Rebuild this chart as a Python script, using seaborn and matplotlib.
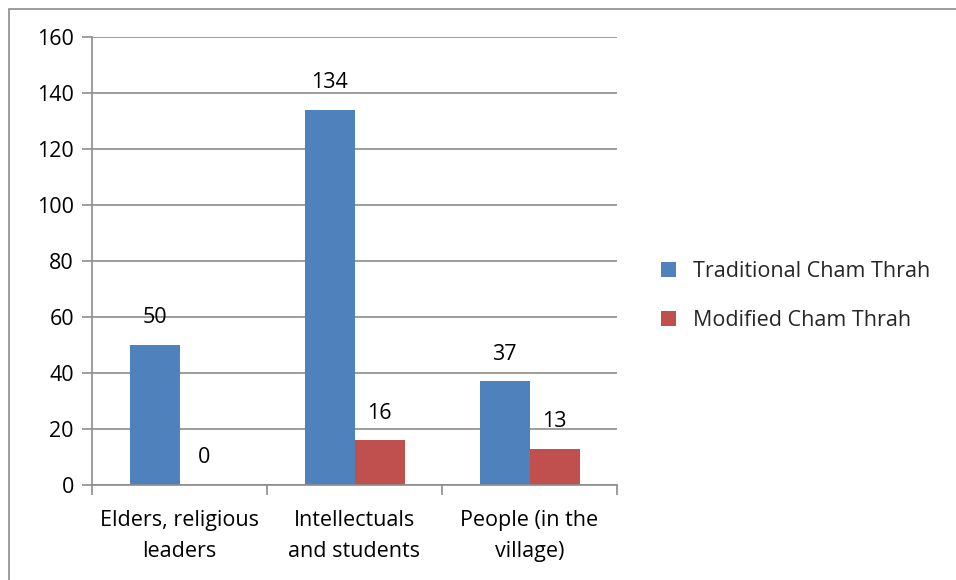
import matplotlib
matplotlib.use("Agg")
import matplotlib.pyplot as plt
import seaborn as sns
import pandas as pd
from matplotlib.patches import Rectangle

categories = ["Elders, religious\nleaders", "Intellectuals\nand students", "People (in the\nvillage)"]
series = ["Traditional Cham Thrah", "Modified Cham Thrah"]
traditional = [50, 134, 37]
modified = [0, 16, 13]
yticks = [0, 20, 40, 60, 80, 100, 120, 140, 160]

df = pd.DataFrame({
    "category": categories * 2,
    "series": [series[0]] * 3 + [series[1]] * 3,
    "value": traditional + modified,
})

sns.set_theme(style="white")
plt.rcParams['font.family'] = ['Open Sans', 'DejaVu Sans']

FS = 15.5
fig = plt.figure(figsize=(9.56, 5.8), dpi=100)
ax = fig.add_axes([92/956, 1 - 485/580, (617-92)/956, (485-37)/580])

colors = ["#4F81BD", "#C0504D"]
sns.barplot(data=df, x="category", y="value", hue="series", hue_order=series,
            order=categories, palette=colors, width=100/175, ax=ax,
            saturation=1, legend=True, errorbar=None, linewidth=0)

ax.set_ylim(0, 160)
ax.set_xlim(-0.5, 2.5)
ax.set_yticks(yticks)
ax.set_yticklabels([str(v) for v in yticks], fontsize=FS)
ax.set_xlabel("")
ax.set_ylabel("")
ax.yaxis.grid(True, color="#8C8C8C", linewidth=1.2)
ax.set_axisbelow(True)
for s in ["top", "right"]:
    ax.spines[s].set_visible(False)
for s in ["left", "bottom"]:
    ax.spines[s].set_color("#8C8C8C")
    ax.spines[s].set_linewidth(1.2)
ax.tick_params(axis="y", left=True, length=7, width=1.2, color="#8C8C8C", pad=6, labelcolor="black")

# x ticks at group boundaries, labels at centers
ax.set_xticks([-0.5, 0.5, 1.5, 2.5])
ax.set_xticklabels([])
ax.set_xticks([0, 1, 2], minor=True)
ax.set_xticklabels(categories, minor=True, fontsize=FS, linespacing=1.65)
ax.tick_params(axis="x", which="major", bottom=True, length=7, width=1.2, color="#8C8C8C")
ax.tick_params(axis="x", which="minor", bottom=False, length=0, pad=18, labelcolor="black")

for cont in ax.containers:
    for bar in cont:
        h = bar.get_height()
        ax.annotate(f"{int(h)}", (bar.get_x() + bar.get_width() / 2, h),
                    xytext=(0, 12), textcoords="offset points",
                    ha="center", va="bottom", fontsize=FS, color="black")

handles, labels = ax.get_legend_handles_labels()
ax.legend(handles, labels, loc="center left", bbox_to_anchor=(642/956, 1 - 296/580),
          bbox_transform=fig.transFigure, frameon=False, fontsize=FS,
          handlelength=0.7, handleheight=0.7, handletextpad=0.75, labelspacing=1.3)

fig.patches.append(Rectangle((9/956, -0.01), 1.0, 1 - 9/580 + 0.01, transform=fig.transFigure,
                             fill=False, edgecolor="#8C8C8C", linewidth=1.2))

fig.savefig("out.png", dpi=100)
